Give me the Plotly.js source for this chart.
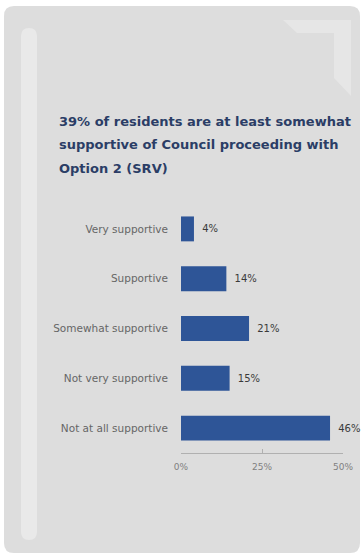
<!DOCTYPE html>
<html><head><meta charset="utf-8">
<script src="https://cdn.plot.ly/plotly-3.0.1.min.js"></script>
<style>html,body{margin:0;padding:0;background:#fff;}#chart{width:362px;height:555px;}</style>
</head><body><div id="chart"></div>
<script>
var categories = ["Very supportive","Supportive","Somewhat supportive","Not very supportive","Not at all supportive"];
var values = [4, 14, 21, 15, 46];
var tickVals = [0, 25, 50];
var tickText = ["0%", "25%", "50%"];
var titleLines = ["39% of residents are at least somewhat","supportive of Council proceeding with","Option 2 (SRV)"];

var W = 362, H = 555, ML = 181, MR = 19, MT = 204, MB = 102;
var PW = W - ML - MR, PH = H - MT - MB;
function px(x){ return ((x - ML) / PW).toFixed(4); }
function py(y){ return ((H - MB - y) / PH).toFixed(4); }
function rrect(x0,y0,x1,y1,r){
  return "M"+px(x0+r)+","+py(y0)+" L"+px(x1-r)+","+py(y0)+" Q"+px(x1)+","+py(y0)+" "+px(x1)+","+py(y0+r)+
    " L"+px(x1)+","+py(y1-r)+" Q"+px(x1)+","+py(y1)+" "+px(x1-r)+","+py(y1)+
    " L"+px(x0+r)+","+py(y1)+" Q"+px(x0)+","+py(y1)+" "+px(x0)+","+py(y1-r)+
    " L"+px(x0)+","+py(y0+r)+" Q"+px(x0)+","+py(y0)+" "+px(x0+r)+","+py(y0)+" Z";
}
var shapes = [
  {type:"path", xref:"paper", yref:"paper", layer:"below", path: rrect(4,6,360,553,10), fillcolor:"#dddddd", line:{width:0}},
  {type:"path", xref:"paper", yref:"paper", layer:"below", path: rrect(21,28,37,540,8), fillcolor:"#e9e9e9", line:{width:0}},
  {type:"path", xref:"paper", yref:"paper", layer:"below",
   path: "M"+px(283)+","+py(20)+" L"+px(351)+","+py(20)+" L"+px(351)+","+py(96)+" L"+px(334)+","+py(78)+" L"+px(334)+","+py(33)+" L"+px(297)+","+py(33)+" Z",
   fillcolor:"#e6e6e6", line:{width:0}}
];

var titleText = titleLines.map(function(s){return "<span style='font-size:13px'>"+s+"</span>";}).join("<br>");

var trace = {
  type:"bar", orientation:"h", y: categories, x: values,
  marker:{color:"#2e5597"},
  text: values.map(function(v){return "\u2009 "+v+"%";}),
  textposition:"outside", cliponaxis:false,
  textfont:{family:"DejaVu Sans", size:10, color:"#3a3a3a"},
  hoverinfo:"none"
};
var layout = {
  width:W, height:H,
  margin:{l:ML, r:MR, t:MT, b:MB, pad:0},
  paper_bgcolor:"#ffffff", plot_bgcolor:"rgba(0,0,0,0)",
  showlegend:false, bargap:0.5,
  title:{text:titleText, xref:"container", yref:"container", x:59/W, xanchor:"left", y:1-126/H, yanchor:"top",
    font:{family:"DejaVu Sans", size:18, color:"#2b3d66", weight:"bold"}},
  xaxis:{range:[0,50], tickvals:tickVals, ticktext:tickText, showgrid:false, zeroline:false,
    showline:true, linecolor:"#b0b0b0", linewidth:1, ticks:"inside", ticklen:4, tickcolor:"#b0b0b0",
    ticklabelstandoff:5,
    tickfont:{family:"DejaVu Sans", size:9, color:"#808080"}, fixedrange:true},
  yaxis:{autorange:"reversed", showgrid:false, zeroline:false, showline:false, ticks:"", ticklen:0,
    ticklabelstandoff:12,
    tickfont:{family:"DejaVu Sans", size:10.5, color:"#666666"}, fixedrange:true, automargin:false},
  shapes: shapes
};
Plotly.newPlot("chart", [trace], layout, {staticPlot:true, displayModeBar:false});
</script></body></html>
